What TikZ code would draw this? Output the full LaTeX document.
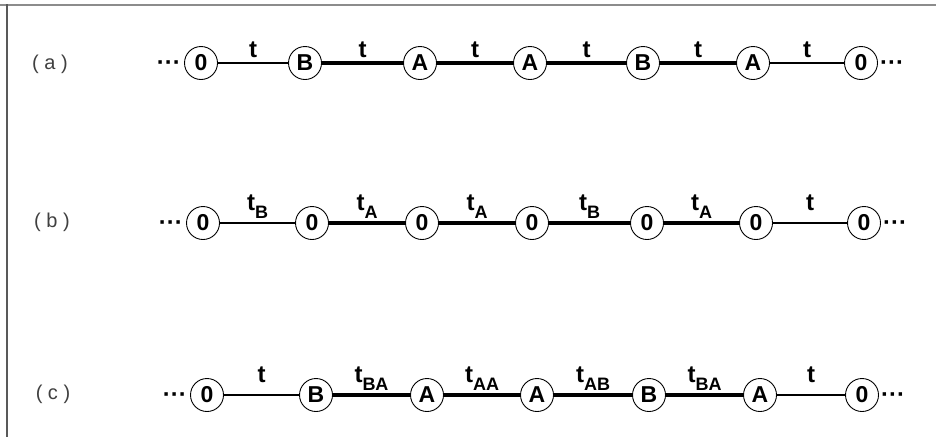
\documentclass[tikz,border=0pt]{standalone}
\usepackage{fontspec}
\setmainfont{Liberation Sans}
\begin{document}
\begin{tikzpicture}[x=1pt,y=-1pt,
  st/.style={circle, draw, line width=0.9pt, minimum size=33pt, inner sep=0pt,
    font=\bfseries\fontsize{23}{23}\selectfont},
  lnthin/.style={line width=1.3pt},
  lnthick/.style={line width=3.6pt},
  lab/.style={midway, anchor=base, inner sep=0pt, font=\bfseries\fontsize{24}{24}\selectfont},
  laba/.style={lab, yshift=6pt},
  labs/.style={lab, yshift=13pt},
  dots/.style={anchor=base east, inner sep=0pt, font=\bfseries\fontsize{24}{24}\selectfont},
  dotsr/.style={anchor=base west, inner sep=0pt, font=\bfseries\fontsize{24}{24}\selectfont},
  rowlab/.style={inner sep=0pt, text=black!75, font=\fontsize{20}{20}\selectfont}
]
\newcommand{\sbs}[1]{\raisebox{-8pt}{\fontsize{18}{18}\selectfont #1}}
\useasboundingbox (0,0) rectangle (936,437);
\fill[white] (0,0) rectangle (936,437);
% frame
\draw[black!45, line width=2pt] (0,5) -- (936,5);
\draw[black!65, line width=2pt] (7,4) -- (7,437);

% row (a)
\node[rowlab] (la) at (50,64) {( a )};
\node[st] (a1) at (201,63) {0};
\node[st] (a2) at (305,63) {B};
\node[st] (a3) at (420,63) {A};
\node[st] (a4) at (530,63) {A};
\node[st] (a5) at (643,63) {B};
\node[st] (a6) at (753,63) {A};
\node[st] (a7) at (861,63) {0};
\node[dots] (da1) at ([xshift=-3pt,yshift=-7pt]a1.west) {···};
\node[dotsr] (da2) at ([xshift=2pt,yshift=-7pt]a7.east) {···};
\draw[lnthin] (a1) -- (a2) node[laba] {t};
\draw[lnthick] (a2) -- (a3) node[laba] {t};
\draw[lnthick] (a3) -- (a4) node[laba] {t};
\draw[lnthick] (a4) -- (a5) node[laba] {t};
\draw[lnthick] (a5) -- (a6) node[laba] {t};
\draw[lnthin] (a6) -- (a7) node[laba] {t};

% row (b)
\node[rowlab] (lb) at (52,222) {( b )};
\node[st] (b1) at (203,223) {0};
\node[st] (b2) at (312,223) {0};
\node[st] (b3) at (422,223) {0};
\node[st] (b4) at (532,223) {0};
\node[st] (b5) at (647,223) {0};
\node[st] (b6) at (756,223) {0};
\node[st] (b7) at (864,223) {0};
\node[dots] (db1) at ([xshift=-3pt,yshift=-7pt]b1.west) {···};
\node[dotsr] (db2) at ([xshift=2pt,yshift=-7pt]b7.east) {···};
\draw[lnthin] (b1) -- (b2) node[labs] {t\sbs{B}};
\draw[lnthick] (b2) -- (b3) node[labs] {t\sbs{A}};
\draw[lnthick] (b3) -- (b4) node[labs] {t\sbs{A}};
\draw[lnthick] (b4) -- (b5) node[labs] {t\sbs{B}};
\draw[lnthick] (b5) -- (b6) node[labs] {t\sbs{A}};
\draw[lnthin] (b6) -- (b7) node[labs] {t};

% row (c)
\node[rowlab] (lc) at (53,394) {( c )};
\node[st] (c1) at (207,395) {0};
\node[st] (c2) at (316,395) {B};
\node[st] (c3) at (427,395) {A};
\node[st] (c4) at (537,395) {A};
\node[st] (c5) at (649,395) {B};
\node[st] (c6) at (760,395) {A};
\node[st] (c7) at (862,395) {0};
\node[dots] (dc1) at ([xshift=-3pt,yshift=-7pt]c1.west) {···};
\node[dotsr] (dc2) at ([xshift=2pt,yshift=-7pt]c7.east) {···};
\draw[lnthin] (c1) -- (c2) node[labs] {t};
\draw[lnthick] (c2) -- (c3) node[labs] {t\sbs{BA}};
\draw[lnthick] (c3) -- (c4) node[labs] {t\sbs{AA}};
\draw[lnthick] (c4) -- (c5) node[labs] {t\sbs{AB}};
\draw[lnthick] (c5) -- (c6) node[labs] {t\sbs{BA}};
\draw[lnthin] (c6) -- (c7) node[labs] {t};
\end{tikzpicture}
\end{document}
